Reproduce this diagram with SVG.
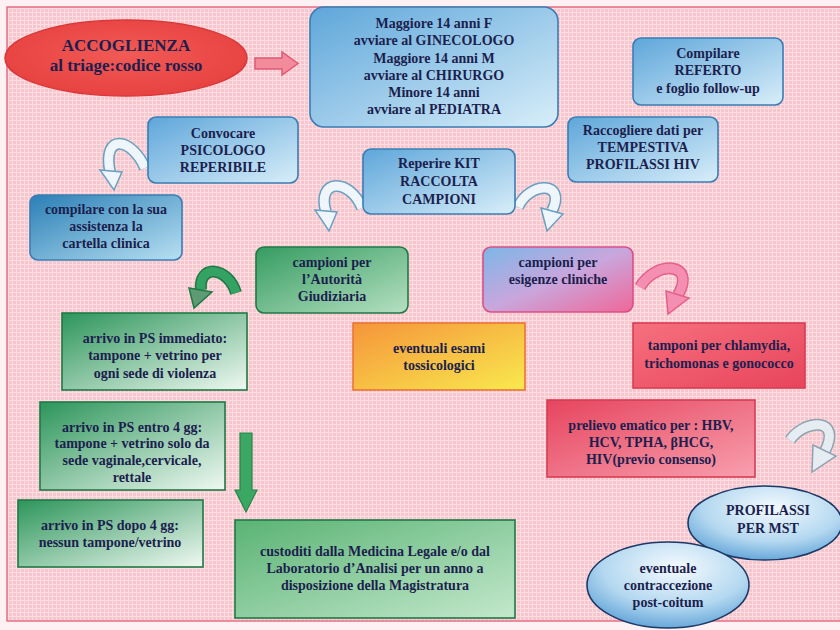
<svg xmlns="http://www.w3.org/2000/svg" width="840" height="630" viewBox="0 0 840 630">
<defs>
<pattern id="grid" width="4" height="4" patternUnits="userSpaceOnUse">
<rect width="4" height="4" fill="#f7c5ce"/>
<path d="M0,0.5H4M0.5,0V4" stroke="#fbdde2" stroke-width="1"/>
</pattern>
<linearGradient id="gBlue" x1="0" y1="0" x2="1" y2="1"><stop offset="0" stop-color="#5ea6da"/><stop offset="1" stop-color="#d8eef9"/></linearGradient>
<linearGradient id="gTeal" x1="0" y1="0" x2="1" y2="1"><stop offset="0" stop-color="#2a7fb6"/><stop offset="1" stop-color="#b8e0f2"/></linearGradient>
<linearGradient id="gGreen" x1="0" y1="0" x2="1" y2="1"><stop offset="0" stop-color="#2c955a"/><stop offset="1" stop-color="#f0f9f2"/></linearGradient>
<linearGradient id="gGreen2" x1="0" y1="0" x2="1" y2="1"><stop offset="0" stop-color="#359c60"/><stop offset="1" stop-color="#b6e0c2"/></linearGradient>
<linearGradient id="gGreen3" x1="0" y1="0" x2="1" y2="1"><stop offset="0" stop-color="#5ab374"/><stop offset="1" stop-color="#c3e8cc"/></linearGradient>
<linearGradient id="gMix" x1="0" y1="0" x2="1" y2="1"><stop offset="0" stop-color="#7cb6e8"/><stop offset="0.5" stop-color="#c9a6dc"/><stop offset="1" stop-color="#f06799"/></linearGradient>
<linearGradient id="gRed" x1="0" y1="0" x2="1" y2="1"><stop offset="0" stop-color="#f6707e"/><stop offset="1" stop-color="#e8445c"/></linearGradient>
<linearGradient id="gRed2" x1="0" y1="0" x2="1" y2="1"><stop offset="0" stop-color="#e6455e"/><stop offset="1" stop-color="#f89fae"/></linearGradient>
<linearGradient id="gOrange" x1="0" y1="0" x2="1" y2="1"><stop offset="0" stop-color="#f5953a"/><stop offset="1" stop-color="#f9e94e"/></linearGradient>
<radialGradient id="gEllRed" cx="0.5" cy="0.45" r="0.6"><stop offset="0" stop-color="#f25a55"/><stop offset="1" stop-color="#e6403f"/></radialGradient>
<radialGradient id="gEllBlue" cx="0.55" cy="0.3" r="0.75"><stop offset="0" stop-color="#f4fafe"/><stop offset="0.6" stop-color="#b4d8f0"/><stop offset="1" stop-color="#5a9fd6"/></radialGradient>
<style>
.t{font-family:"Liberation Serif","Times New Roman",serif;font-weight:bold;font-size:14px;fill:#1c1f4e;text-anchor:middle}
.big{font-size:17px}
.bx{stroke:#3a7db4;stroke-width:1.6}
.gb{stroke:#1f7a45;stroke-width:1.6}
.arrOut{fill:none;stroke-linecap:butt}
</style>
</defs>
<rect x="0" y="0" width="840" height="630" fill="#fdf1f3"/>
<rect x="7" y="7" width="840" height="614" fill="url(#grid)" stroke="#e56f83" stroke-width="1.5"/>

<g id="connectors">
<polygon points="255,58 282,58 282,52 298,63.5 282,75 282,69 255,69" fill="#f28c9c" stroke="#e05a72" stroke-width="1.5"/>
<g id="arr-psicologo">
<path d="M145,168 C132,138 102,132 110,172" class="arrOut" stroke="#6a9fbf" stroke-width="12"/>
<path d="M145,168 C132,138 102,132 110,172" class="arrOut" stroke="#eef6fb" stroke-width="9"/>
<polygon points="100,170 122,172 114,190" fill="#eef6fb" stroke="#6a9fbf" stroke-width="1.5"/>
</g>
<g id="arr-kit-left">
<path d="M362,208 C350,178 316,178 326,212" class="arrOut" stroke="#6a9fbf" stroke-width="12"/>
<path d="M362,208 C350,178 316,178 326,212" class="arrOut" stroke="#eef6fb" stroke-width="9"/>
<polygon points="315,210 337,212 329,231" fill="#eef6fb" stroke="#6a9fbf" stroke-width="1.5"/>
</g>
<g id="arr-kit-right">
<path d="M518,207 C530,181 567,181 552,211" class="arrOut" stroke="#6a9fbf" stroke-width="12"/>
<path d="M518,207 C530,181 567,181 552,211" class="arrOut" stroke="#eef6fb" stroke-width="9"/>
<polygon points="541,208 563,214 547,231" fill="#eef6fb" stroke="#6a9fbf" stroke-width="1.5"/>
</g>
<g id="arr-pink">
<path d="M640,287 C656,260 697,262 678,295" class="arrOut" stroke="#e35f8c" stroke-width="12"/>
<path d="M640,287 C656,260 697,262 678,295" class="arrOut" stroke="#f58fb2" stroke-width="9"/>
<polygon points="666,291 689,298 668,314" fill="#f58fb2" stroke="#e35f8c" stroke-width="1.5"/>
</g>
<g id="arr-green">
<path d="M236,293 C228,266 198,264 201,290" class="arrOut" stroke="#1f7a45" stroke-width="12"/>
<path d="M236,293 C228,266 198,264 201,290" class="arrOut" stroke="#33a263" stroke-width="9"/>
<polygon points="189,288 212,292 194,308" fill="#5e9a74" stroke="#1f7a45" stroke-width="1.5"/>
</g>
<g id="arr-grey">
<path d="M790,440 C806,418 842,418 825,451" class="arrOut" stroke="#8fa2b0" stroke-width="12"/>
<path d="M790,440 C806,418 842,418 825,451" class="arrOut" stroke="#e6edf2" stroke-width="9"/>
<polygon points="813,445 836,456 812,472" fill="#e6edf2" stroke="#8fa2b0" stroke-width="1.5"/>
</g>
<polygon points="240,433 252,433 252,490 257,490 246,512 235,490 240,490" fill="#3aa862" stroke="#25864a" stroke-width="1.2"/>
</g>

<g id="accoglienza">
<ellipse cx="126" cy="58" rx="121" ry="38" fill="url(#gEllRed)" stroke="#d8383a" stroke-width="1.5"/>
<text class="t big" x="126" y="51">ACCOGLIENZA</text>
<text class="t big" x="126" y="71">al triage:codice rosso</text>
</g>

<g id="smistamento">
<rect x="310" y="7" width="248" height="120" rx="14" fill="url(#gBlue)" class="bx"/>
<text class="t" x="434" y="28">Maggiore 14 anni F</text>
<text class="t" x="434" y="45">avviare al GINECOLOGO</text>
<text class="t" x="434" y="63">Maggiore 14 anni M</text>
<text class="t" x="434" y="80">avviare al CHIRURGO</text>
<text class="t" x="434" y="97">Minore 14 anni</text>
<text class="t" x="434" y="114">avviare al PEDIATRA</text>
</g>

<g id="referto">
<rect x="633" y="38" width="150" height="67" rx="8" fill="url(#gBlue)" class="bx"/>
<text class="t" x="708" y="58">Compilare</text>
<text class="t" x="708" y="75">REFERTO</text>
<text class="t" x="708" y="93">e foglio follow-up</text>
</g>

<g id="profilassi-hiv">
<rect x="568" y="117" width="150" height="65" rx="8" fill="url(#gBlue)" class="bx"/>
<text class="t" x="643" y="135">Raccogliere dati per</text>
<text class="t" x="643" y="152">TEMPESTIVA</text>
<text class="t" x="643" y="169">PROFILASSI HIV</text>
</g>

<g id="psicologo">
<rect x="148" y="117" width="150" height="66" rx="8" fill="url(#gBlue)" class="bx"/>
<text class="t" x="223" y="138">Convocare</text>
<text class="t" x="223" y="155">PSICOLOGO</text>
<text class="t" x="223" y="172">REPERIBILE</text>
</g>

<g id="cartella">
<rect x="30" y="195" width="152" height="65" rx="8" fill="url(#gTeal)" class="bx"/>
<text class="t" x="106" y="214">compilare con la sua</text>
<text class="t" x="106" y="231">assistenza la</text>
<text class="t" x="106" y="248">cartella clinica</text>
</g>

<g id="kit">
<rect x="363" y="149" width="152" height="65" rx="8" fill="url(#gBlue)" class="bx"/>
<text class="t" x="439" y="168">Reperire  KIT</text>
<text class="t" x="439" y="186">RACCOLTA</text>
<text class="t" x="439" y="204">CAMPIONI</text>
</g>

<g id="autorita">
<rect x="256" y="247" width="152" height="66" rx="8" fill="url(#gGreen2)" class="gb"/>
<text class="t" x="332" y="267">campioni per</text>
<text class="t" x="332" y="284">l’Autorità</text>
<text class="t" x="332" y="301">Giudiziaria</text>
</g>

<g id="esigenze">
<rect x="483" y="247" width="150" height="65" rx="8" fill="url(#gMix)" stroke="#d95089" stroke-width="1.6"/>
<text class="t" x="558" y="267">campioni per</text>
<text class="t" x="558" y="284">esigenze cliniche</text>
</g>

<g id="tossicologici">
<rect x="353" y="323" width="172" height="67" fill="url(#gOrange)" stroke="#ea7438" stroke-width="1.6"/>
<text class="t" x="439" y="353">eventuali esami</text>
<text class="t" x="439" y="370">tossicologici</text>
</g>

<g id="tamponi">
<rect x="633" y="323" width="172" height="65" fill="url(#gRed)" stroke="#d83c54" stroke-width="1.6"/>
<text class="t" x="719" y="350">tamponi per chlamydia,</text>
<text class="t" x="719" y="368">trichomonas e gonococco</text>
</g>

<g id="immediato">
<rect x="62" y="313" width="185" height="77" fill="url(#gGreen)" class="gb"/>
<text class="t" x="155" y="343">arrivo in PS immediato:</text>
<text class="t" x="155" y="360">tampone + vetrino per</text>
<text class="t" x="155" y="378">ogni sede di violenza</text>
</g>

<g id="entro4">
<rect x="40" y="402" width="185" height="88" fill="url(#gGreen)" class="gb"/>
<text class="t" x="132" y="432">arrivo in PS entro 4 gg:</text>
<text class="t" x="132" y="448">tampone + vetrino solo da</text>
<text class="t" x="132" y="465">sede vaginale,cervicale,</text>
<text class="t" x="132" y="482">rettale</text>
</g>

<g id="dopo4">
<rect x="18" y="500" width="185" height="67" fill="url(#gGreen)" class="gb"/>
<text class="t" x="110" y="530">arrivo in PS dopo 4 gg:</text>
<text class="t" x="110" y="547">nessun tampone/vetrino</text>
</g>

<g id="custoditi">
<rect x="235" y="520" width="280" height="98" fill="url(#gGreen3)" class="gb"/>
<text class="t" x="375" y="556">custoditi dalla Medicina Legale e/o dal</text>
<text class="t" x="375" y="573">Laboratorio d’Analisi per un anno a</text>
<text class="t" x="375" y="590">disposizione della Magistratura</text>
</g>

<g id="prelievo">
<rect x="547" y="400" width="208" height="77" fill="url(#gRed2)" stroke="#d83c54" stroke-width="1.6"/>
<text class="t" x="651" y="430">prelievo ematico per : HBV,</text>
<text class="t" x="651" y="447">HCV, TPHA, βHCG,</text>
<text class="t" x="651" y="464">HIV(previo consenso)</text>
</g>

<g id="mst">
<ellipse cx="765" cy="523" rx="77" ry="37" fill="url(#gEllBlue)" stroke="#1d3a66" stroke-width="1.6"/>
<text class="t" x="768" y="515">PROFILASSI</text>
<text class="t" x="768" y="533">PER MST</text>
</g>

<g id="contraccezione">
<ellipse cx="668" cy="585" rx="81" ry="43" fill="url(#gEllBlue)" stroke="#1d3a66" stroke-width="1.6"/>
<text class="t" x="668" y="573">eventuale</text>
<text class="t" x="668" y="590">contraccezione</text>
<text class="t" x="668" y="607">post-coitum</text>
</g>
</svg>
